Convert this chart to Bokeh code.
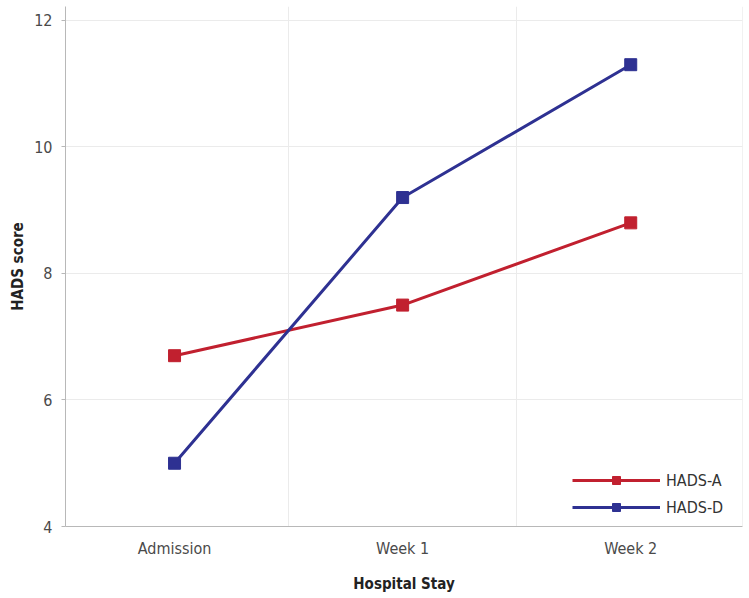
from bokeh.plotting import figure
from bokeh.models import Range1d, FixedTicker, Span, Legend, LegendItem
from bokeh.embed import file_html
from bokeh.resources import INLINE

categories = ["Admission", "Week 1", "Week 2"]
hads_a = [6.7, 7.5, 8.8]
hads_d = [5.0, 9.2, 11.3]
y_ticks = [4, 6, 8, 10, 12]

x = list(range(len(categories)))
FONT = "'DejaVu Sans Condensed', 'Liberation Sans Narrow', 'Roboto Condensed', Roboto"
RED = "#c1202f"
BLUE = "#2e3192"

p = figure(width=746, height=596, output_backend="svg", toolbar_location=None,
           x_range=Range1d(-0.478, 2.49), y_range=Range1d(4, 12.22),
           min_border_left=65, min_border_right=4, min_border_top=6, min_border_bottom=70)
p.frame_width = 677
p.frame_height = 520
p.outline_line_color = None
p.background_fill_color = "white"

# axes
p.xaxis.ticker = FixedTicker(ticks=x)
p.xaxis.major_label_overrides = {i: c for i, c in zip(x, categories)}
p.yaxis.ticker = FixedTicker(ticks=y_ticks)
for ax in (p.xaxis[0], p.yaxis[0]):
    ax.axis_line_color = "#b8b8b8"
    ax.axis_line_width = 1
    ax.major_label_text_font = FONT
    ax.major_label_text_font_size = "16px"
    ax.major_label_text_color = "#4a4a4a"
    ax.axis_label_text_font = FONT
    ax.axis_label_text_font_size = "15px"
    ax.axis_label_text_font_style = "bold"
    ax.axis_label_text_color = "#222222"
    ax.minor_tick_line_color = None
p.xaxis.major_tick_line_color = None
p.xaxis.major_label_standoff = 6
p.xaxis.axis_label = "Hospital Stay"
p.xaxis.axis_label_standoff = 14
p.yaxis.major_tick_in = 0
p.yaxis.major_tick_out = 4
p.yaxis.major_tick_line_color = "#b8b8b8"
p.yaxis.major_label_standoff = 9
p.yaxis.axis_label = "HADS score"
p.yaxis.axis_label_standoff = 4

# grids
p.xgrid.ticker = FixedTicker(ticks=[0.5, 1.5])
p.xgrid.grid_line_color = "#ebebeb"
p.ygrid.ticker = FixedTicker(ticks=y_ticks)
p.ygrid.grid_line_color = "#ebebeb"
p.add_layout(Span(location=2.49, dimension="height", line_color="#e4e4e4", line_width=1))

la = p.line(x, hads_a, line_color=RED, line_width=3)
ma = p.scatter(x, hads_a, marker="square", size=12, fill_color=RED, line_color=RED)
ld = p.line(x, hads_d, line_color=BLUE, line_width=3)
md = p.scatter(x, hads_d, marker="square", size=12, fill_color=BLUE, line_color=BLUE)

legend = Legend(items=[LegendItem(label="HADS-A", renderers=[la, ma]),
                       LegendItem(label="HADS-D", renderers=[ld, md])],
                location=(507, 9), glyph_width=88, glyph_height=20, spacing=7,
                padding=8, label_standoff=6, border_line_color=None,
                background_fill_color="white", background_fill_alpha=1,
                label_text_font=FONT, label_text_font_size="16px",
                label_text_color="#333333")
p.add_layout(legend)

open("out.html", "w").write(file_html(p, INLINE))
